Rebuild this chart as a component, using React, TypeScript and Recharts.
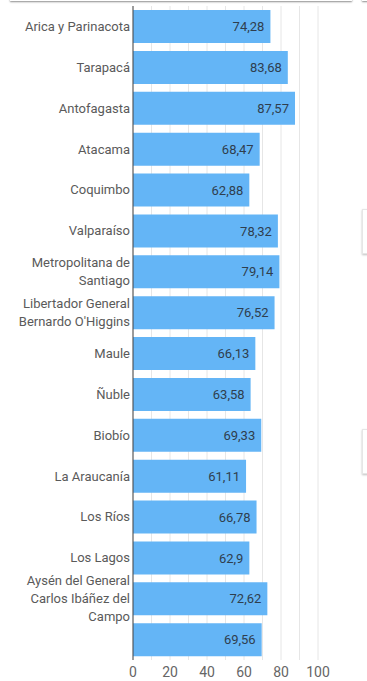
import React from "react";
import { BarChart, Bar, XAxis, YAxis, CartesianGrid, LabelList } from "recharts";

const regions = [
  "Arica y Parinacota",
  "Tarapacá",
  "Antofagasta",
  "Atacama",
  "Coquimbo",
  "Valparaíso",
  "Metropolitana de Santiago",
  "Libertador General Bernardo O'Higgins",
  "Maule",
  "Ñuble",
  "Biobío",
  "La Araucanía",
  "Los Ríos",
  "Los Lagos",
  "Aysén del General Carlos Ibáñez del Campo",
  "",
];
const values = [74.28, 83.68, 87.57, 68.47, 62.88, 78.32, 79.14, 76.52, 66.13, 63.58, 69.33, 61.11, 66.78, 62.9, 72.62, 69.56];
const xTicks = [0, 20, 40, 60, 80, 100];
const gridTicks = [0, 10, 20, 30, 40, 50, 60, 70, 80, 90, 100];
const X_MAX = 100;

const data = regions.map((name, i) => ({ name, value: values[i] }));

const FONT = "Roboto, 'Noto Sans', sans-serif";

const wrap = (text: string, max: number) => {
  const words = text.split(" ");
  const lines: string[] = [];
  let cur = "";
  words.forEach((w) => {
    if (!cur) cur = w;
    else if ((cur + " " + w).length <= max) cur += " " + w;
    else {
      lines.push(cur);
      cur = w;
    }
  });
  if (cur) lines.push(cur);
  return lines;
};

const CategoryTick = ({ x, y, payload }: any) => {
  const lines = wrap(payload.value || "", 18);
  const lh = 18;
  const start = -((lines.length - 1) * lh) / 2;
  return (
    <text x={x} y={y} textAnchor="end" fill="#5a5a5a" fontSize={13} fontFamily={FONT}>
      {lines.map((l, i) => (
        <tspan key={i} x={x} y={y + start + i * lh} dy="0.35em">
          {l}
        </tspan>
      ))}
    </text>
  );
};

export default function App() {
  return (
    <div style={{ position: "absolute", left: 0, top: 0, width: 367, height: 681, background: "#fff", overflow: "hidden" }}>
      <div style={{ position: "absolute", left: 10, top: -4, width: 342, height: 5, background: "#fff", boxShadow: "0 1px 2px rgba(0,0,0,0.45)" }} />
      <div style={{ position: "absolute", left: 362, top: -4, width: 20, height: 5, background: "#fff", boxShadow: "0 1px 2px rgba(0,0,0,0.45)" }} />
      <div style={{ position: "absolute", left: 362, top: 209, width: 20, height: 43, background: "#fff", border: "1px solid #e6e6e6", boxShadow: "0 1px 2px rgba(0,0,0,0.25)" }} />
      <div style={{ position: "absolute", left: 362, top: 429, width: 20, height: 43, background: "#fff", border: "1px solid #e6e6e6", boxShadow: "0 1px 2px rgba(0,0,0,0.25)" }} />
      <BarChart
        width={367}
        height={681}
        data={data}
        layout="vertical"
        margin={{ top: 6, right: 49, bottom: 0, left: 0 }}
        barCategoryGap="10%"
        style={{ position: "absolute", left: 0, top: 0 }}
      >
        <CartesianGrid
          horizontal={false}
          stroke="#e6e6e6"
          verticalCoordinatesGenerator={({ offset }: any) =>
            gridTicks.map((t) => offset.left + (t / X_MAX) * offset.width)
          }
        />
        <XAxis
          type="number"
          domain={[0, X_MAX]}
          ticks={xTicks}
          axisLine={false}
          tickLine={false}
          tickSize={0}
          tickMargin={7}
          height={21}
          tick={{ fill: "#666", fontSize: 14, fontFamily: FONT }}
        />
        <YAxis
          type="category"
          dataKey="name"
          width={133}
          axisLine={{ stroke: "#444" }}
          tickLine={false}
          tickSize={0}
          tickMargin={3}
          interval={0}
          tick={<CategoryTick />}
        />
        <Bar dataKey="value" fill="#64b5f6" isAnimationActive={false}>
          <LabelList
            dataKey="value"
            position="insideRight"
            offset={6}
            fill="#2f3e4e"
            fontSize={13}
            fontFamily={FONT}
            formatter={(v: any) => String(v).replace(".", ",")}
          />
        </Bar>
      </BarChart>
    </div>
  );
}
